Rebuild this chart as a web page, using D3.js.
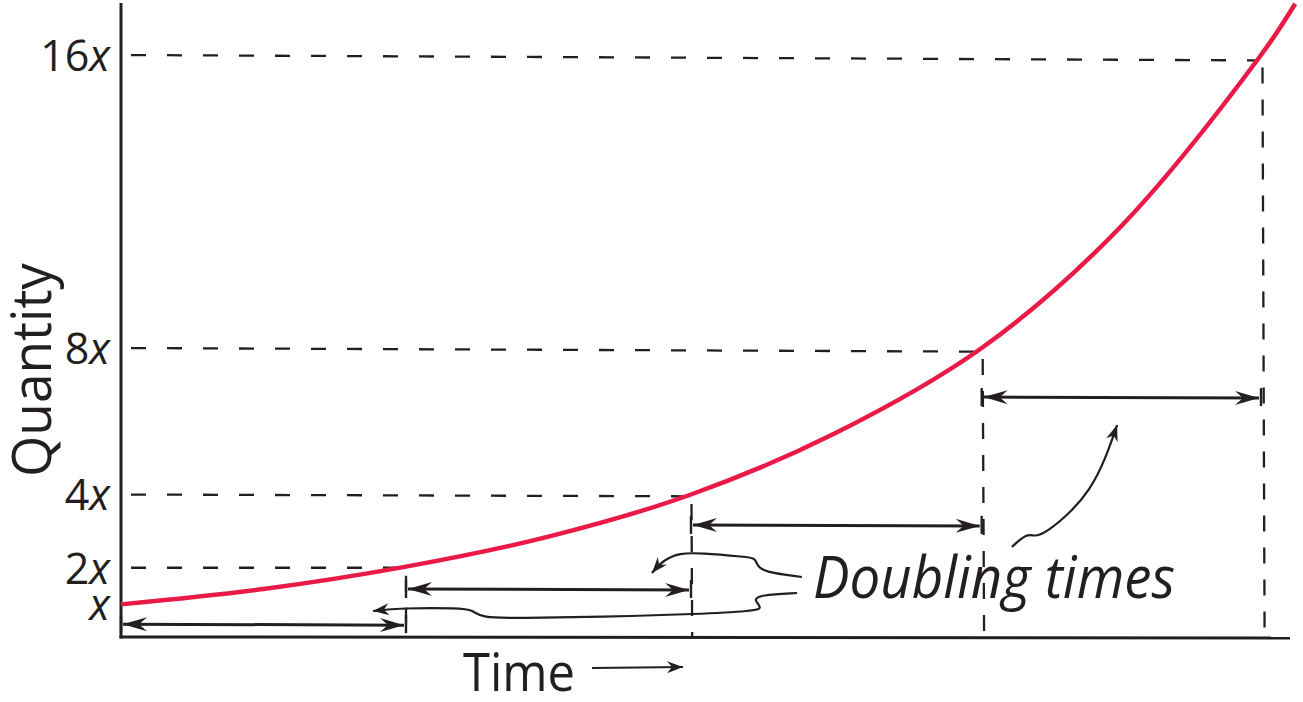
<!DOCTYPE html>
<html><head><meta charset="utf-8">
<script src="https://cdn.jsdelivr.net/npm/d3@7"></script>
<style>body{margin:0;background:#fff;} svg{display:block;}</style>
</head><body><svg id="chart" width="1303" height="702"></svg>
<script>
// ---- data ----
const time = [0, 0.5, 1, 1.5, 2, 2.5, 3.02, 3.5, 4, 4.12];          // in doubling periods
const quantity = [1, 1.42, 2.03, 2.85, 4, 5.65, 8, 11.25, 16, 17.4]; // in multiples of x
const levelValues = [1, 2, 4, 8, 16];
const levelNumbers = ["", "2", "4", "8", "16"];
const doublingTimes = [0, 1, 2, 3.02, 4];
const doublingLevels = [2, 4, 8, 16];
const arrowLevels = [0.46, 1.42, 3.17, 6.66];
const annotation = "Doubling times";
const xTitle = "Time", yTitle = "Quantity";
// hand-drawn leader lines, in (time, quantity) units
const leaderA = [[2.389,1.747],[2.253,1.884],[2.232,2.075],[2.225,2.266],[2.196,2.293],[2.032,2.403],[1.961,2.403],[1.902,2.212],[1.863,1.857]];
const leaderB = [[2.372,1.311],[2.242,1.256],[2.218,1.119],[2.253,0.901],[2.218,0.819],[2.032,0.737],[1.681,0.655],[1.400,0.628],[1.262,0.628],[1.235,0.846],[1.189,0.901],[0.979,0.901],[0.884,0.819]];
const leaderC = [[3.126,2.567],[3.179,2.949],[3.207,2.840],[3.249,2.976],[3.330,3.495],[3.400,4.123],[3.453,4.942],[3.495,5.898]];

// ---- layout ----
const INK = "#231f20", RED = "#ea1a48";
const axisX = 121, axisBottom = 637, axisTop = 3, axisRight = 1290;
const svg = d3.select("#chart");
const x = d3.scaleLinear().domain([0, 4]).range([121, 1261]);
const y = d3.scaleLinear().domain([0, 16]).range([641, 55]);

const defs = svg.append("defs");
function marker(id, w, h, back) {
  defs.append("marker").attr("id", id).attr("markerUnits", "userSpaceOnUse")
    .attr("viewBox", `${-w-1} ${-h-1} ${w+3} ${2*h+2}`)
    .attr("markerWidth", w+3).attr("markerHeight", 2*h+2)
    .attr("refX", 0).attr("refY", 0).attr("orient", "auto-start-reverse")
    .append("path").attr("d", `M0,0 L${-w},${-h} L${-w+back},0 L${-w},${h} Z`).attr("fill", INK);
}
marker("ah", 24, 7, 8);
marker("ahs", 16, 6, 5);

// dashed guide lines
const hd = svg.append("g").attr("stroke", INK).attr("stroke-width", 2.3).attr("fill", "none");
doublingLevels.forEach((v, i) => {
  const t = doublingTimes[i + 1];
  hd.append("line").attr("x1", axisX + 2).attr("x2", x(t) - 6)
    .attr("y1", y(v)).attr("y2", y(v) + i * 1.8).attr("stroke-dasharray", "15,21").attr("stroke-dashoffset", -8);
  hd.append("line").attr("x1", x(t) + i*0.5).attr("x2", x(t) + i*1.2)
    .attr("y1", y(v) + 8 + i*1.5).attr("y2", axisBottom).attr("stroke-dasharray", "16,16");
});

// axes lines
svg.append("line").attr("x1", axisX).attr("x2", axisX).attr("y1", axisTop).attr("y2", axisBottom + 1.5)
  .attr("stroke", INK).attr("stroke-width", 3);
svg.append("line").attr("x1", axisX - 1.5).attr("x2", axisRight).attr("y1", axisBottom).attr("y2", axisBottom + 1)
  .attr("stroke", INK).attr("stroke-width", 3);

// y axis tick labels
const yAxis = d3.axisLeft(y).tickValues(levelValues).tickSize(0).tickPadding(11).tickFormat(() => "");
const gy = svg.append("g").attr("transform", `translate(${axisX},0)`).call(yAxis);
gy.select(".domain").remove();
gy.selectAll(".tick text").each(function(d) {
  const t = d3.select(this).attr("fill", INK).attr("font-family", "'Open Sans', sans-serif")
    .attr("font-size", 43).attr("dy", "0.36em");
  const i = levelValues.indexOf(d);
  t.append("tspan").text(levelNumbers[i]);
  t.append("tspan").attr("font-style", "italic").text("x");
});

// curve
const curveLine = d3.line().x((d) => x(d[0])).y((d) => y(d[1])).curve(d3.curveCatmullRom);
svg.append("path").datum(time.map((t, i) => [t, quantity[i]]))
  .attr("d", curveLine).attr("fill", "none").attr("stroke", RED).attr("stroke-width", 4.5);

// doubling-time arrows
const ag = svg.append("g").attr("stroke", INK).attr("fill", "none");
arrowLevels.forEach((v, i) => {
  const x0 = x(doublingTimes[i]), x1 = x(doublingTimes[i + 1]), yy = y(v);
  ag.append("line").attr("x1", x0 + 2).attr("x2", x1 - 2).attr("y1", yy).attr("y2", yy + 1)
    .attr("stroke-width", 3).attr("marker-start", "url(#ah)").attr("marker-end", "url(#ah)");
  [x0, x1].forEach(xx => ag.append("line").attr("x1", xx).attr("x2", xx).attr("y1", yy - 9).attr("y2", yy + 9).attr("stroke-width", 2.4));
});

// leaders
const leaderLine = d3.line().x(d => x(d[0])).y(d => y(d[1])).curve(d3.curveBasis);
[leaderA, leaderB, leaderC].forEach(pts => {
  svg.append("path").datum(pts).attr("d", leaderLine).attr("fill", "none")
    .attr("stroke", INK).attr("stroke-width", 2.2).attr("marker-end", "url(#ahs)");
});

// texts
svg.append("text").attr("x", 813).attr("y", 598).attr("fill", INK)
  .attr("font-family", "'Open Sans', sans-serif").attr("font-style", "italic").attr("font-size", 58)
  .attr("textLength", 362).attr("lengthAdjust", "spacingAndGlyphs").text(annotation);
svg.append("text").attr("x", 463).attr("y", 691).attr("fill", INK)
  .attr("font-family", "'Open Sans', sans-serif").attr("font-size", 53)
  .attr("textLength", 112).attr("lengthAdjust", "spacingAndGlyphs").text(xTitle);
svg.append("text").attr("transform", "translate(51,370) rotate(-90)").attr("text-anchor", "middle").attr("fill", INK)
  .attr("font-family", "'Open Sans', sans-serif").attr("font-size", 54)
  .attr("textLength", 214).attr("lengthAdjust", "spacingAndGlyphs").text(yTitle);
svg.append("line").attr("x1", 592).attr("x2", 683).attr("y1", 668).attr("y2", 667)
  .attr("stroke", INK).attr("stroke-width", 2).attr("marker-end", "url(#ahs)");
</script>
</body></html>
